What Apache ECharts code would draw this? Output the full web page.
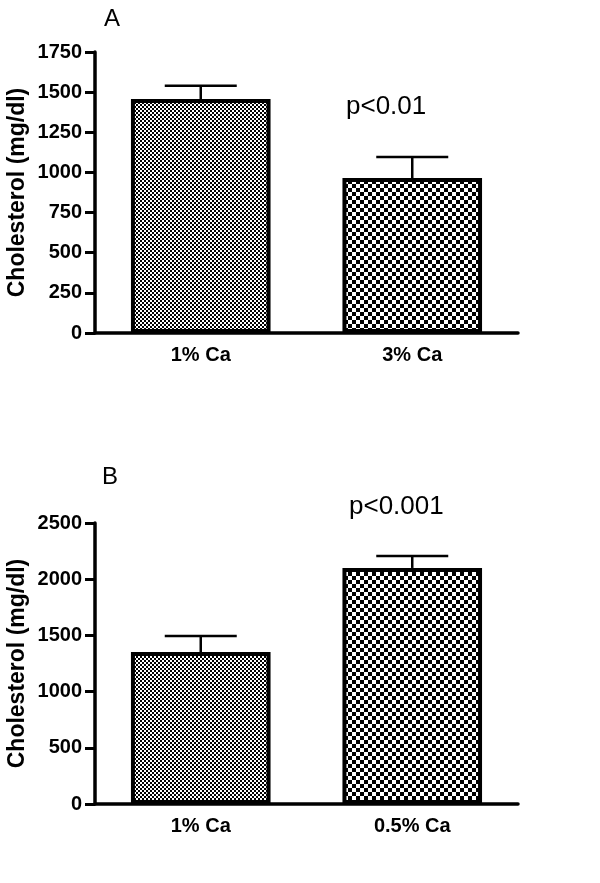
<!DOCTYPE html>
<html><head><meta charset="utf-8">
<script src="https://cdn.jsdelivr.net/npm/echarts@6/dist/echarts.min.js"></script>
<style>html,body{margin:0;padding:0;background:#fff}#c{width:600px;height:883px}</style>
</head><body><div id="c"></div>
<script>
// Data
const categoriesA = ['1% Ca', '3% Ca'];
const meansA = [1457, 965];
const errA = [83, 131];
const categoriesB = ['1% Ca', '0.5% Ca'];
const meansB = [1352, 2100];
const errB = [143, 106];
const yTicksA = {min: 0, max: 1750, interval: 250};
const yTicksB = {min: 0, max: 2500, interval: 500};
const pTextA = 'p<0.01';
const pTextB = 'p<0.001';
const yTitle = 'Cholesterol (mg/dl)';

function checker(cell) {
  const c = document.createElement('canvas');
  c.width = c.height = cell * 2;
  const ctx = c.getContext('2d');
  ctx.fillStyle = '#fff'; ctx.fillRect(0, 0, cell * 2, cell * 2);
  ctx.fillStyle = '#000';
  ctx.fillRect(0, 0, cell, cell);
  ctx.fillRect(cell, cell, cell, cell);
  return {image: c, repeat: 'repeat'};
}
const fineP = checker(2);
const coarseP = checker(4);

const chart = echarts.init(document.getElementById('c'), null, {renderer: 'canvas'});
const FONT = 'Liberation Sans, Arial, sans-serif';

function xAx(idx, cats) {
  return {
    gridIndex: idx, type: 'category', data: cats, boundaryGap: true,
    axisLine: {lineStyle: {color: '#000', width: 3.5}},
    axisTick: {alignWithLabel: true, length: 8, lineStyle: {width: 3, color: '#000'}},
    axisLabel: {color: '#000', fontFamily: FONT, fontWeight: 'bold', fontSize: 20, margin: 12}
  };
}
function yAx(idx, t) {
  return {
    gridIndex: idx, type: 'value', min: t.min, max: t.max, interval: t.interval,
    name: yTitle, nameLocation: 'middle', nameGap: 66, nameRotate: 90, nameMoveOverlap: false,
    nameTextStyle: {color: '#000', fontFamily: FONT, fontWeight: 'bold', fontSize: 23},
    axisLine: {show: true, lineStyle: {color: '#000', width: 3.5}},
    axisTick: {show: true, length: 10, lineStyle: {width: 3, color: '#000'}},
    axisLabel: {color: '#000', fontFamily: FONT, fontWeight: 'bold', fontSize: 20, margin: 13,
      formatter: v => String(v)},
    splitLine: {show: false}
  };
}
function barSeries(idx, means, patterns) {
  return {
    type: 'bar', xAxisIndex: idx, yAxisIndex: idx, barWidth: '66%',
    data: means.map((v, i) => ({value: v, itemStyle: {color: patterns[i]}})),
    itemStyle: {borderColor: '#000', borderWidth: 4},
    silent: true, z: 2
  };
}
function errSeries(idx, means, errs) {
  return {
    type: 'custom', xAxisIndex: idx, yAxisIndex: idx, z: 1,
    data: means.map((v, i) => [i, v, v + errs[i]]),
    renderItem: function (params, api) {
      const lo = api.coord([api.value(0), api.value(1)]);
      const hi = api.coord([api.value(0), api.value(2)]);
      const half = 36;
      const st = {stroke: '#000', lineWidth: 2.5};
      return {type: 'group', children: [
        {type: 'line', shape: {x1: lo[0], y1: lo[1], x2: hi[0], y2: hi[1]}, style: st},
        {type: 'line', shape: {x1: hi[0] - half, y1: hi[1], x2: hi[0] + half, y2: hi[1]}, style: st}
      ]};
    }
  };
}

chart.setOption({
  animation: false,
  backgroundColor: '#fff',
  grid: [
    {left: 95, top: 52, width: 423, height: 281, outerBoundsMode: 'none', containLabel: false},
    {left: 95, top: 523, width: 423, height: 281, outerBoundsMode: 'none', containLabel: false}
  ],
  xAxis: [xAx(0, categoriesA), xAx(1, categoriesB)],
  yAxis: [yAx(0, yTicksA), yAx(1, yTicksB)],
  series: [
    errSeries(0, meansA, errA),
    barSeries(0, meansA, [fineP, coarseP]),
    errSeries(1, meansB, errB),
    barSeries(1, meansB, [fineP, coarseP])
  ],
  graphic: [
    {type: 'text', left: 104, top: 7, style: {text: 'A', font: '24px ' + FONT, fill: '#000'}},
    {type: 'text', left: 102, top: 465, style: {text: 'B', font: '24px ' + FONT, fill: '#000'}},
    {type: 'text', left: 346, top: 94, style: {text: pTextA, font: '26px ' + FONT, fill: '#000'}},
    {type: 'text', left: 349, top: 494, style: {text: pTextB, font: '26px ' + FONT, fill: '#000'}}
  ]
});
</script></body></html>
